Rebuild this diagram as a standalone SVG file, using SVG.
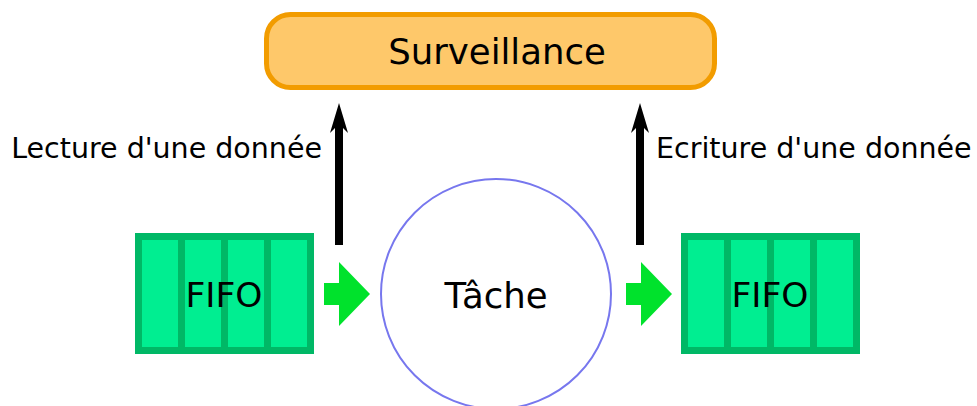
<svg xmlns="http://www.w3.org/2000/svg" width="977" height="406" viewBox="0 0 977 406">
<defs>
<style>
text{font-family:"DejaVu Sans",sans-serif;fill:#000}
.fifo{fill:#00ee91;stroke:#00b866;stroke-width:7}
.div{stroke:#00b866;stroke-width:7}
.garrow{fill:#00e22c}
.barrow{fill:#000}
</style>
</defs>
<g id="surveillance">
<rect x="266.5" y="14.5" width="448" height="73" rx="24" fill="#fec86a" stroke="#f29c00" stroke-width="5"/>
<text x="497" y="64" font-size="35.5" text-anchor="middle">Surveillance</text>
</g>
<g id="fifo-in">
<rect class="fifo" x="138.5" y="236.5" width="172" height="114"/>
<line class="div" x1="181.5" y1="236.5" x2="181.5" y2="350.5"/>
<line class="div" x1="224.5" y1="236.5" x2="224.5" y2="350.5"/>
<line class="div" x1="267.5" y1="236.5" x2="267.5" y2="350.5"/>
<text x="224" y="307" font-size="34.5" text-anchor="middle">FIFO</text>
</g>
<g id="tache">
<circle cx="496" cy="294" r="115" fill="#fff" stroke="#7777ee" stroke-width="2"/>
<text x="496" y="308" font-size="35.5" text-anchor="middle">Tâche</text>
</g>
<g id="fifo-out">
<rect class="fifo" x="684.5" y="236.5" width="172" height="114"/>
<line class="div" x1="727.5" y1="236.5" x2="727.5" y2="350.5"/>
<line class="div" x1="770.5" y1="236.5" x2="770.5" y2="350.5"/>
<line class="div" x1="813.5" y1="236.5" x2="813.5" y2="350.5"/>
<text x="770" y="307" font-size="34.5" text-anchor="middle">FIFO</text>
</g>
<g id="connectors">
<path class="garrow" d="M324,283 H339 V262 L370,294 L339,326 V305 H324 Z"/>
<path class="garrow" d="M626,283 H641 V262 L672,294 L641,326 V305 H626 Z"/>
<path class="barrow" d="M335,245 V128 L330,133 L339,103 L348,133 L343,128 V245 Z"/>
<path class="barrow" d="M636,245 V128 L631,133 L640,103 L649,133 L644,128 V245 Z"/>
<text x="322" y="158" font-size="28.5" text-anchor="end">Lecture d'une donnée</text>
<text x="656" y="158" font-size="28.5">Ecriture d'une donnée</text>
</g>
</svg>
